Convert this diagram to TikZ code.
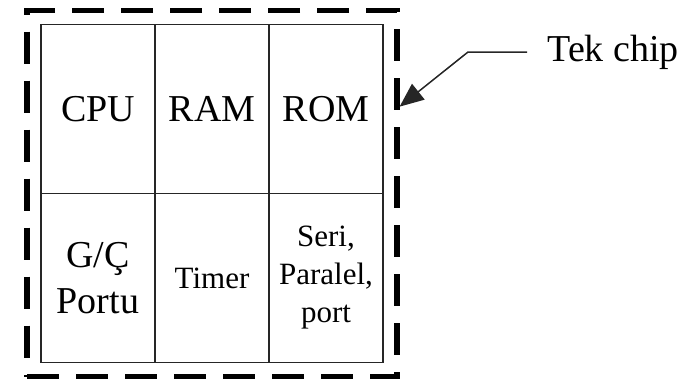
\documentclass[tikz,border=0pt]{standalone}
\usepackage{fontspec}
\setmainfont{Liberation Serif}
\usepackage{tikz}
\usetikzlibrary{arrows.meta,positioning,fit,calc}

\begin{document}
\begin{tikzpicture}[
    x=0.5pt, y=-0.5pt,
    cell/.style={rectangle, draw=black!85, line width=0.75pt, minimum width=57pt, minimum height=84.5pt, outer sep=0pt, inner sep=1pt, align=center, font=\fontsize{19}{23}\selectfont},
    smallcell/.style={cell, font=\fontsize{15.5}{19}\selectfont},
    chipbox/.style={rectangle, draw=black, line width=2.6pt, dash pattern=on 16pt off 8.5pt, inner sep=7pt},
    pointer/.style={-{Triangle[length=12pt, width=10pt]}, line width=0.75pt, black!85},
    callout/.style={font=\fontsize{19}{23}\selectfont, inner sep=0pt},
]
\useasboundingbox (0,0) rectangle (695,382);

% --- Chip cells ---
\node[cell] (cpu) at (98,109) {CPU};
\node[cell, right=0pt of cpu] (ram) {RAM};
\node[cell, right=0pt of ram] (rom) {ROM};
\node[cell, below=0pt of cpu] (gio) {G/Ç\\Portu};
\node[smallcell, below=0pt of ram] (timer) {Timer};
\node[smallcell, below=0pt of rom] (serial) {Seri,\\Paralel,\\port};

% Single chip boundary
\node[chipbox, fit=(cpu)(serial)] (chip) {};

% --- Label ---
\node[callout, anchor=west] (tek) at (547,52) {Tek chip};
\coordinate (hit) at ($(chip.north east)!0.266!(chip.south east)$);
\draw[pointer] ([xshift=-10pt]tek.west) -- ++(-59,0) -- (hit);

\end{tikzpicture}
\end{document}
